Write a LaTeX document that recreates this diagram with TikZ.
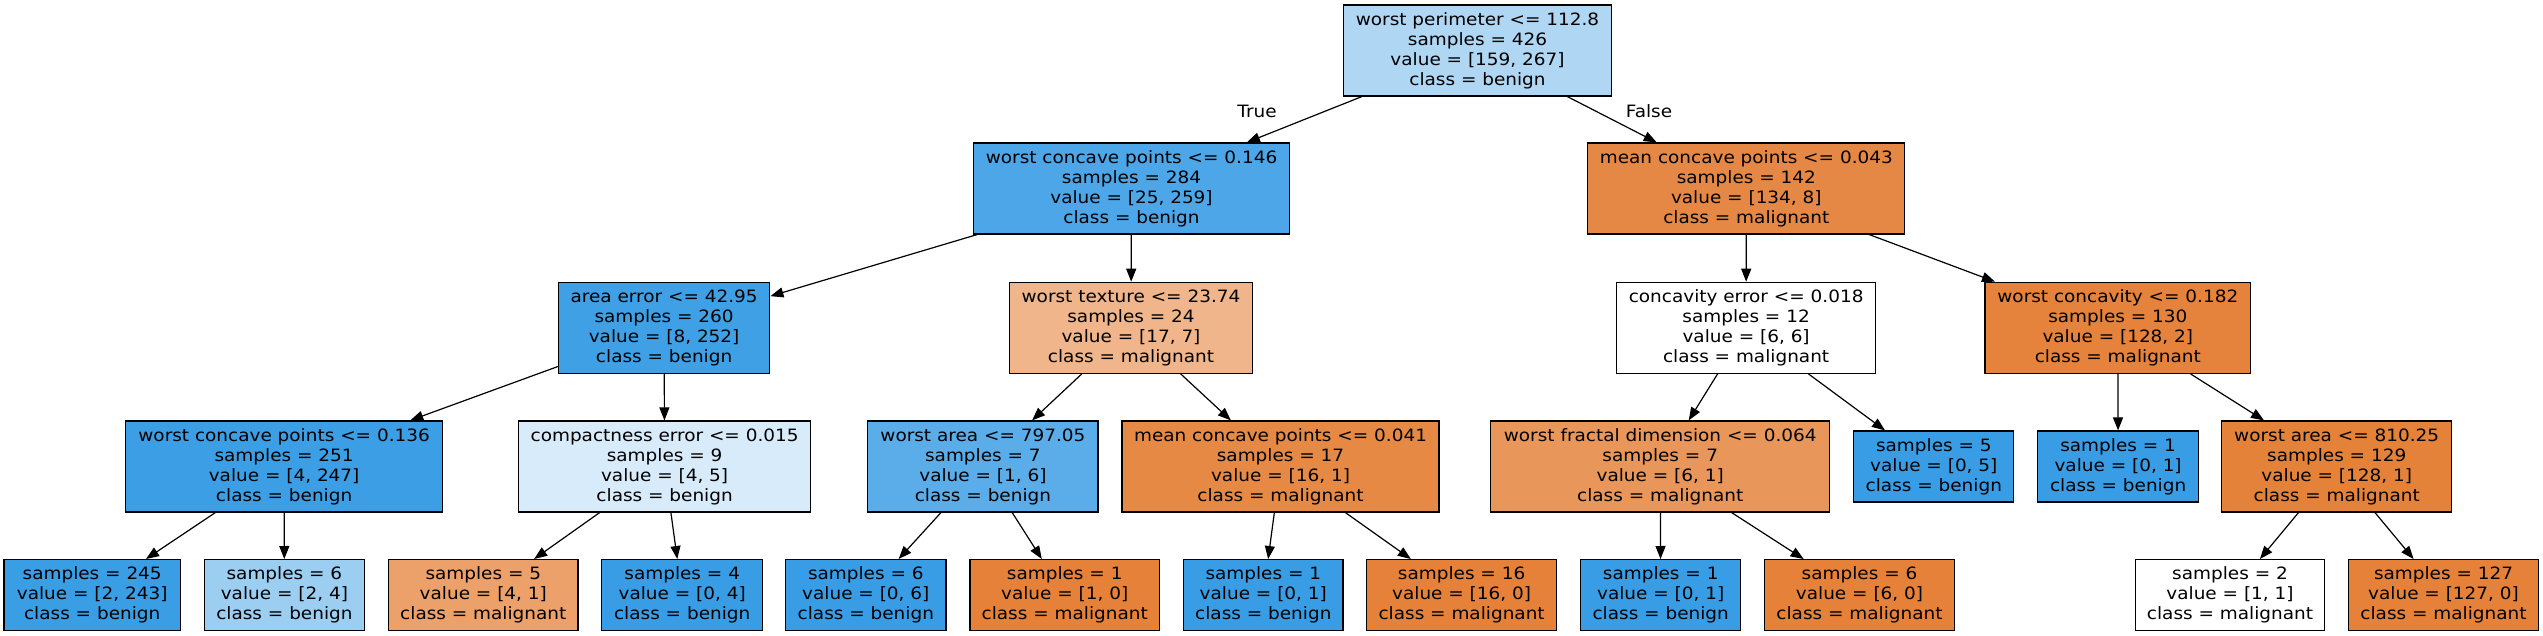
\documentclass[tikz,border=0pt]{standalone}
\usepackage{fontspec}
\setmainfont{DejaVu Sans}[FakeStretch=1.085]
\usetikzlibrary{arrows.meta}
\definecolor{croot}{RGB}{175,215,244}
\definecolor{cA}{RGB}{76,166,231}
\definecolor{cB}{RGB}{230,136,69}
\definecolor{cC}{RGB}{63,160,230}
\definecolor{cD}{RGB}{240,181,138}
\definecolor{cE}{RGB}{229,131,60}
\definecolor{cF}{RGB}{60,159,229}
\definecolor{cG}{RGB}{215,235,250}
\definecolor{cH}{RGB}{90,173,233}
\definecolor{cI}{RGB}{230,137,69}
\definecolor{cJ}{RGB}{233,150,90}
\definecolor{cK}{RGB}{229,130,58}
\definecolor{cL}{RGB}{58,158,229}
\definecolor{cM}{RGB}{156,206,242}
\definecolor{cN}{RGB}{236,160,106}
\definecolor{benignc}{RGB}{57,157,229}
\definecolor{malc}{RGB}{229,129,57}
\begin{document}
\begin{tikzpicture}[x=1pt,y=-1pt,
  box/.style={draw=black, line width=1.2pt, rectangle, inner sep=0pt, align=center,
    font=\fontsize{17}{20}\selectfont, minimum height=91pt},
  leaf/.style={box, minimum height=71pt},
  edge/.style={-{Triangle[length=13pt,width=10pt]}, line width=1.2pt},
  elabel/.style={font=\fontsize{17}{20}\selectfont, inner sep=0pt}]
\fill[white] (0,0) rectangle (2543,636);
\useasboundingbox (0,0) rectangle (2543,636);

% level 0
\node[box, fill=croot, minimum width=268.4pt] (n0) at (1477.5,50.5)
  {worst perimeter <= 112.8\\samples = 426\\value = [159, 267]\\class = benign};
% level 1
\node[box, fill=cA, minimum width=315.7pt] (n1) at (1131.5,188.5)
  {worst concave points <= 0.146\\samples = 284\\value = [25, 259]\\class = benign};
\node[box, fill=cB, minimum width=317pt] (n2) at (1746.3,188.5)
  {mean concave points <= 0.043\\samples = 142\\value = [134, 8]\\class = malignant};
% level 2
\node[box, fill=cC, minimum width=211.4pt] (n3) at (664.1,327.8)
  {area error <= 42.95\\samples = 260\\value = [8, 252]\\class = benign};
\node[box, fill=cD, minimum width=242.8pt] (n4) at (1131,327.8)
  {worst texture <= 23.74\\samples = 24\\value = [17, 7]\\class = malignant};
\node[box, fill=white, minimum width=258.6pt] (n5) at (1746.1,327.8)
  {concavity error <= 0.018\\samples = 12\\value = [6, 6]\\class = malignant};
\node[box, fill=cE, minimum width=265.8pt] (n6) at (2117.8,327.8)
  {worst concavity <= 0.182\\samples = 130\\value = [128, 2]\\class = malignant};
% level 3
\node[box, fill=cF, minimum width=316.6pt] (n7) at (284.1,466.5)
  {worst concave points <= 0.136\\samples = 251\\value = [4, 247]\\class = benign};
\node[box, fill=cG, minimum width=291.6pt] (n8) at (664.6,466.5)
  {compactness error <= 0.015\\samples = 9\\value = [4, 5]\\class = benign};
\node[box, fill=cH, minimum width=230.2pt] (n9) at (982.9,466.5)
  {worst area <= 797.05\\samples = 7\\value = [1, 6]\\class = benign};
\node[box, fill=cI, minimum width=317pt] (n10) at (1280.5,466.5)
  {mean concave points <= 0.041\\samples = 17\\value = [16, 1]\\class = malignant};
\node[box, fill=cJ, minimum width=339.1pt] (n11) at (1660.2,466.5)
  {worst fractal dimension <= 0.064\\samples = 7\\value = [6, 1]\\class = malignant};
\node[leaf, fill=benignc, minimum width=160pt] (n12) at (1933.8,466.5)
  {samples = 5\\value = [0, 5]\\class = benign};
\node[leaf, fill=benignc, minimum width=160.6pt] (n13) at (2118.1,466.5)
  {samples = 1\\value = [0, 1]\\class = benign};
\node[box, fill=cK, minimum width=229.8pt] (n14) at (2336.7,466.5)
  {worst area <= 810.25\\samples = 129\\value = [128, 1]\\class = malignant};
% level 4
\node[leaf, fill=cL, minimum width=176.3pt] (n15) at (92.2,595.1)
  {samples = 245\\value = [2, 243]\\class = benign};
\node[leaf, fill=cM, minimum width=159.9pt] (n16) at (284.4,595.1)
  {samples = 6\\value = [2, 4]\\class = benign};
\node[leaf, fill=cN, minimum width=189.2pt] (n17) at (483.3,595.1)
  {samples = 5\\value = [4, 1]\\class = malignant};
\node[leaf, fill=benignc, minimum width=161pt] (n18) at (682.2,595.1)
  {samples = 4\\value = [0, 4]\\class = benign};
\node[leaf, fill=benignc, minimum width=160.2pt] (n19) at (865.8,595.1)
  {samples = 6\\value = [0, 6]\\class = benign};
\node[leaf, fill=malc, minimum width=189.4pt] (n20) at (1064.7,595.1)
  {samples = 1\\value = [1, 0]\\class = malignant};
\node[leaf, fill=benignc, minimum width=159.5pt] (n21) at (1263.3,595.1)
  {samples = 1\\value = [0, 1]\\class = benign};
\node[leaf, fill=malc, minimum width=190pt] (n22) at (1461.6,595.1)
  {samples = 16\\value = [16, 0]\\class = malignant};
\node[leaf, fill=benignc, minimum width=160pt] (n23) at (1660.7,595.1)
  {samples = 1\\value = [0, 1]\\class = benign};
\node[leaf, fill=malc, minimum width=189.4pt] (n24) at (1859.5,595.1)
  {samples = 6\\value = [6, 0]\\class = malignant};
\node[leaf, fill=white, minimum width=189.5pt] (n25) at (2230,595.1)
  {samples = 2\\value = [1, 1]\\class = malignant};
\node[leaf, fill=malc, minimum width=189.5pt] (n26) at (2443.5,595.1)
  {samples = 127\\value = [127, 0]\\class = malignant};

% edges
\draw[edge] (n0) -- (n1);
\draw[edge] (n0) -- (n2);
\draw[edge] (n1) -- (n3);
\draw[edge] (n1) -- (n4);
\draw[edge] (n2) -- (n5);
\draw[edge] (n2) -- (n6);
\draw[edge] (n3) -- (n7);
\draw[edge] (n3) -- (n8);
\draw[edge] (n4) -- (n9);
\draw[edge] (n4) -- (n10);
\draw[edge] (n5) -- (n11);
\draw[edge] (n5) -- (n12);
\draw[edge] (n6) -- (n13);
\draw[edge] (n6) -- (n14);
\draw[edge] (n7) -- (n15);
\draw[edge] (n7) -- (n16);
\draw[edge] (n8) -- (n17);
\draw[edge] (n8) -- (n18);
\draw[edge] (n9) -- (n19);
\draw[edge] (n9) -- (n20);
\draw[edge] (n10) -- (n21);
\draw[edge] (n10) -- (n22);
\draw[edge] (n11) -- (n23);
\draw[edge] (n11) -- (n24);
\draw[edge] (n14) -- (n25);
\draw[edge] (n14) -- (n26);

% edge labels
\node[elabel] (ltrue) at (1257,111.7) {True};
\node[elabel] (lfalse) at (1649,111.5) {False};
\end{tikzpicture}
\end{document}
